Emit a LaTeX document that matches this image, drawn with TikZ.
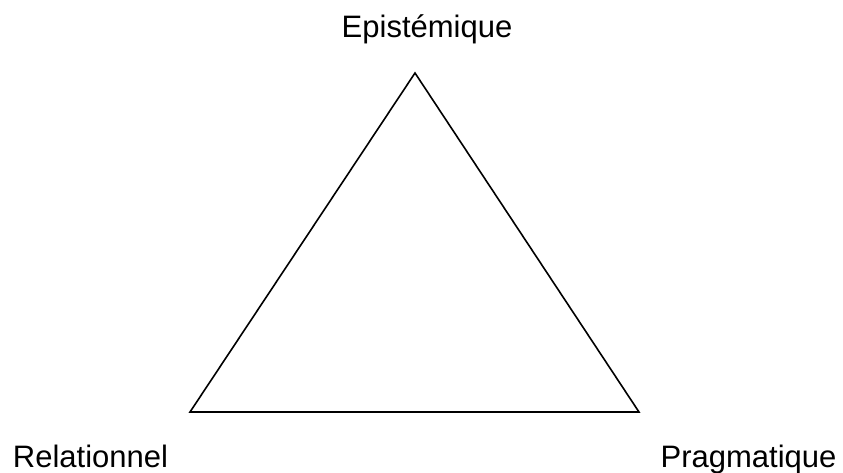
\documentclass[tikz,border=0pt]{standalone}
\usepackage{fontspec}
\setmainfont{Liberation Sans}
\usetikzlibrary{positioning}

\begin{document}
\begin{tikzpicture}[x=1pt,y=-1pt,
    pole/.style={font=\fontsize{31}{36}\selectfont, inner sep=0pt, anchor=base}]
    \useasboundingbox (0,0) rectangle (843,472);

    % Sommets du triangle
    \coordinate (top) at (415,73);
    \coordinate (left) at (190,412);
    \coordinate (right) at (639,412);

    % Triangle
    \draw[line width=1.6pt, line join=miter] (top) -- (left) -- (right) -- cycle;

    % Pôles
    \node[pole] (epi) at (427,37) {Epistémique};
    \node[pole] (rel) at (90.5,467) {Relationnel};
    \node[pole] (prag) at (748.5,467) {Pragmatique};
\end{tikzpicture}
\end{document}
